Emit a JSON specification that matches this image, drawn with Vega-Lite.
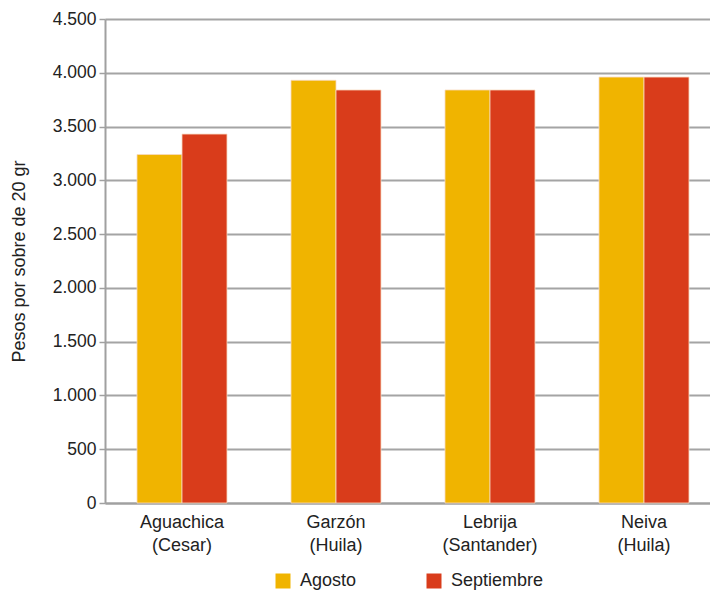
{
  "$schema": "https://vega.github.io/schema/vega-lite/v6.json",
  "autosize": "none",
  "width": 605,
  "height": 484,
  "padding": {"left": 105, "top": 19, "right": 0, "bottom": 87},
  "background": "white",
  "config": {
    "font": "Liberation Sans",
    "view": {"stroke": null}
  },
  "data": {
    "values": [
      {"ciudad": "Aguachica (Cesar)", "mes": "Agosto", "valor": 3240},
      {"ciudad": "Aguachica (Cesar)", "mes": "Septiembre", "valor": 3430},
      {"ciudad": "Garzón (Huila)", "mes": "Agosto", "valor": 3930},
      {"ciudad": "Garzón (Huila)", "mes": "Septiembre", "valor": 3840},
      {"ciudad": "Lebrija (Santander)", "mes": "Agosto", "valor": 3840},
      {"ciudad": "Lebrija (Santander)", "mes": "Septiembre", "valor": 3840},
      {"ciudad": "Neiva (Huila)", "mes": "Agosto", "valor": 3960},
      {"ciudad": "Neiva (Huila)", "mes": "Septiembre", "valor": 3960}
    ]
  },
  "mark": {"type": "bar", "stroke": "#f7d9c0", "strokeWidth": 0.8},
  "encoding": {
    "x": {
      "field": "ciudad",
      "type": "nominal",
      "sort": null,
      "scale": {"range": [0, 616], "paddingInner": 0.4156, "paddingOuter": 0.2078},
      "axis": {
        "title": null,
        "labelAngle": 0,
        "labelExpr": "split(datum.label, ' ')",
        "labelFontSize": 18,
        "labelColor": "#222222",
        "labelPadding": 10,
        "labelLineHeight": 23,
        "ticks": false,
        "domainColor": "#a0a0a0",
        "domainWidth": 2
      }
    },
    "xOffset": {"field": "mes", "type": "nominal", "scale": {"paddingInner": 0, "paddingOuter": 0}},
    "y": {
      "field": "valor",
      "type": "quantitative",
      "scale": {"domain": [0, 4500], "nice": false},
      "axis": {
        "title": "Pesos por sobre de 20 gr",
        "titleFontSize": 18,
        "titleFontWeight": "normal",
        "titleColor": "#222222",
        "titlePadding": 24,
        "values": [0, 500, 1000, 1500, 2000, 2500, 3000, 3500, 4000, 4500],
        "labelExpr": "replace(format(datum.value, ','), ',', '.')",
        "labelFontSize": 17.5,
        "labelColor": "#222222",
        "labelPadding": 3,
        "tickSize": 6,
        "tickColor": "#a0a0a0",
        "tickWidth": 1.5,
        "domainColor": "#a0a0a0",
        "domainWidth": 2,
        "gridColor": "#a4a4a4",
        "gridWidth": 1.8,
        "grid": true
      }
    },
    "color": {
      "field": "mes",
      "type": "nominal",
      "scale": {"domain": ["Agosto", "Septiembre"], "range": ["#F0B400", "#D93C1B"]},
      "legend": {
        "title": null,
        "orient": "none",
        "legendX": 169,
        "legendY": 553,
        "direction": "horizontal",
        "symbolType": "square",
        "symbolSize": 225,
        "symbolStrokeWidth": 0,
        "labelFontSize": 18,
        "labelColor": "#222222",
        "labelOffset": 8,
        "columnPadding": 68
      }
    }
  }
}
